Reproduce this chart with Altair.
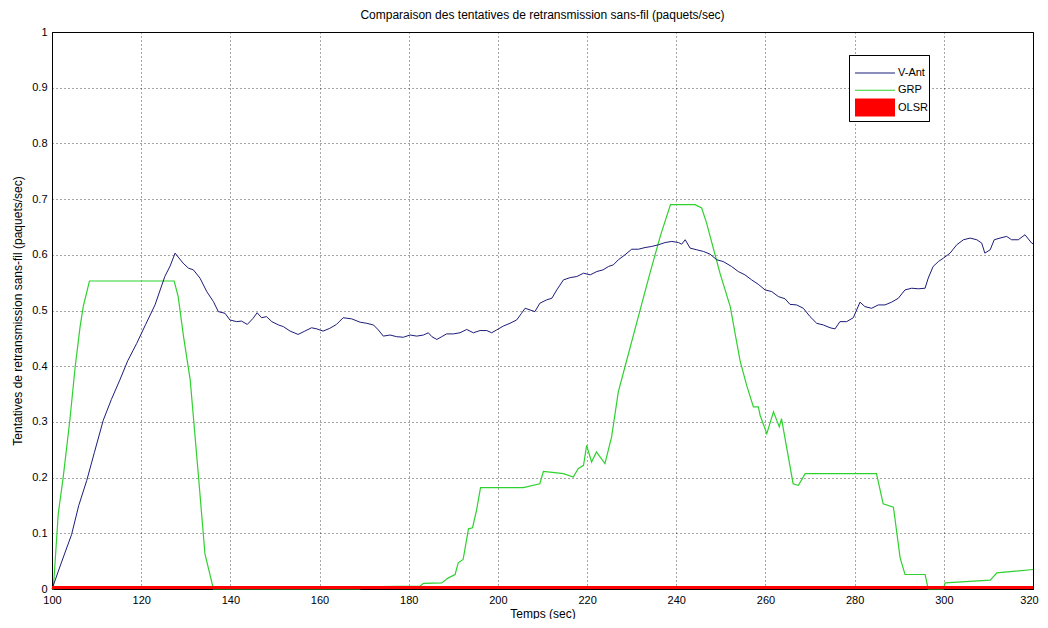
import altair as alt
import pandas as pd

vant_t = [100, 102, 104.4, 106, 107.8, 109.5, 111.5, 113.3, 115.2, 117, 119, 121, 123.1, 125.3, 126.5, 127.6,
          129.4, 130.6, 131.7, 133.2, 134.7, 136.2, 137.3, 138.8, 139.9, 141.4, 142.5, 143.8, 145.1, 146.0, 147.0,
          148.1, 149.3, 150.8, 151.9, 153.4, 155.2, 156.7, 158.2, 159.4, 160.8, 162.3, 163.8, 165.3, 167.2, 169.1,
          170.6, 172.1, 173.2, 174.3, 175.8, 177.3, 178.8, 180.3, 181.8, 183.3, 184.4, 185.2, 186.3, 187.4, 188.5,
          190.0, 191.5, 193.0, 194.5, 196.0, 197.5, 198.6, 199.7, 201.2, 202.7, 204.2, 205.3, 206.1, 207.2, 208.3,
          209.4, 210.9, 212.1, 213.2, 214.7, 216.2, 217.7, 219.2, 220.7, 222.2, 223.6, 224.8, 225.9, 227.0, 228.5,
          230.0, 231.5, 233.0, 234.5, 236.0, 237.5, 239.0, 240.5, 241.2, 242.0, 243.1, 244.6, 246.1, 247.6, 249.1,
          250.5, 252.4, 253.9, 255.4, 256.9, 258.4, 259.9, 261.4, 262.9, 264.4, 265.5, 267.0, 268.5, 270.0, 271.5,
          273.0, 274.5, 275.6, 276.7, 278.2, 279.7, 281.2, 282.3, 283.8, 285.3, 286.8, 288.3, 289.8, 291.3, 292.8,
          294.3, 295.8, 296.5, 297.6, 298.8, 299.9, 301.4, 302.9, 304.4, 305.9, 307.4, 308.5, 309.2, 310.4, 311.3,
          312.6, 314.1, 315.2, 316.7, 318.2, 319.7, 320]
vant_v = [0, 0.045, 0.098, 0.15, 0.195, 0.245, 0.303, 0.34, 0.375, 0.41, 0.441, 0.475, 0.51, 0.561, 0.58, 0.603,
          0.585, 0.576, 0.573, 0.558, 0.534, 0.516, 0.498, 0.495, 0.483, 0.48, 0.481, 0.475, 0.486, 0.496, 0.487,
          0.489, 0.48, 0.474, 0.471, 0.463, 0.457, 0.463, 0.469, 0.467, 0.463, 0.468, 0.475, 0.487, 0.485, 0.479,
          0.477, 0.474, 0.465, 0.454, 0.456, 0.453, 0.452, 0.456, 0.454, 0.456, 0.46, 0.453, 0.448, 0.453, 0.458,
          0.458, 0.46, 0.466, 0.46, 0.464, 0.464, 0.46, 0.465, 0.472, 0.477, 0.483, 0.495, 0.504, 0.501, 0.498,
          0.513, 0.519, 0.522, 0.537, 0.555, 0.559, 0.561, 0.567, 0.564, 0.57, 0.573, 0.579, 0.582, 0.591, 0.6,
          0.61, 0.61, 0.613, 0.615, 0.618, 0.622, 0.624, 0.622, 0.619, 0.627, 0.612, 0.609, 0.606, 0.601, 0.591,
          0.588, 0.579, 0.57, 0.564, 0.555, 0.547, 0.537, 0.534, 0.525, 0.521, 0.511, 0.51, 0.504, 0.489, 0.477,
          0.474, 0.469, 0.467, 0.48, 0.48, 0.487, 0.515, 0.507, 0.504, 0.51, 0.51, 0.515, 0.522, 0.537, 0.54,
          0.539, 0.54, 0.558, 0.579, 0.588, 0.594, 0.603, 0.618, 0.627, 0.63, 0.627, 0.621, 0.603, 0.609, 0.627,
          0.63, 0.633, 0.627, 0.627, 0.636, 0.621, 0.62]

grp_t = [100, 100.3, 101.4, 102.5, 104, 105.2, 106.3, 107, 108.1, 108.4, 127.4, 128.3, 129.5, 131, 132.8, 134.3,
         136.2, 169, 169.1, 182.5, 183.3, 187.4, 188.9, 190.4, 191.1, 192.2, 193.4, 194.3, 195.2, 196.1, 205.7,
         209.4, 210.2, 211.7, 214.7, 216.9, 218, 219.2, 219.9, 221, 222.1, 224, 225.5, 227, 228.5, 231.9, 234.1,
         236.4, 238.7, 244.2, 245.7, 246.8, 249.8, 252.1, 254.3, 255.8, 257.3, 258.4, 258.8, 260.3, 261.8, 263.1,
         263.6, 266.2, 267.4, 268.9, 284.9, 286.4, 288.7, 290.2, 291.3, 295.8, 296.5, 299.9, 300.3, 310.4, 311.9, 320]
grp_v = [0, 0, 0.135, 0.2, 0.303, 0.399, 0.471, 0.507, 0.543, 0.553, 0.553, 0.525, 0.453, 0.375, 0.207, 0.063,
         0, 0, 0.004, 0.005, 0.01, 0.011, 0.02, 0.026, 0.047, 0.053, 0.108, 0.11, 0.141, 0.182, 0.182,
         0.189, 0.211, 0.21, 0.207, 0.201, 0.216, 0.222, 0.258, 0.228, 0.246, 0.225, 0.273, 0.354, 0.399, 0.501, 0.567,
         0.633, 0.69, 0.69, 0.684, 0.657, 0.567, 0.507, 0.41, 0.365, 0.327, 0.327, 0.312, 0.279, 0.318, 0.291,
         0.306, 0.189, 0.186, 0.207, 0.207, 0.153, 0.147, 0.056, 0.026, 0.026, 0, 0, 0.011, 0.016, 0.029, 0.035]

olsr_t = [100, 320]
olsr_v = [0, 0]

series_names = ["V-Ant", "GRP", "OLSR"]
series_colors = ["#1c1c7a", "#2fd12f", "#ff0000"]
x_ticks = list(range(100, 321, 20))
y_ticks = [round(i * 0.1, 1) for i in range(11)]

df = pd.concat([
    pd.DataFrame({"t": vant_t, "v": vant_v, "s": "V-Ant"}),
    pd.DataFrame({"t": grp_t, "v": grp_v, "s": "GRP"}),
    pd.DataFrame({"t": olsr_t, "v": olsr_v, "s": "OLSR"}),
])
legend_df = pd.DataFrame({"s": series_names})

FONT = "Liberation Sans"

color_scale = alt.Scale(domain=series_names, range=series_colors)
x = alt.X("t:Q", scale=alt.Scale(domain=[100, 320], nice=False, zero=False),
          axis=alt.Axis(title="Temps (sec)", values=x_ticks, format="d", labelFlush=False,
                        labelOffset={"condition": {"test": "datum.value == 320", "value": -4}, "value": 0}))
y = alt.Y("v:Q", scale=alt.Scale(domain=[0, 1], nice=False),
          axis=alt.Axis(title="Tentatives de retransmission sans-fil (paquets/sec)", values=y_ticks, labelFlush=False,
                        labelExpr="datum.value == 0 ? '0' : datum.value == 1 ? '1' : format(datum.value, '.1f')"))
color = alt.Color("s:N", scale=color_scale, legend=None)

base = alt.Chart(df).encode(x=x, y=y, color=color)

layers = []
for name, w, clip in [("GRP", 1.2, False), ("V-Ant", 1.0, False), ("OLSR", 6, True)]:
    layers.append(base.transform_filter(alt.datum.s == name).mark_line(strokeWidth=w, clip=clip))
lines = alt.layer(*layers)

# legend box (inside the plot, top right)
leg_box = alt.Chart(legend_df).mark_rect(fill="white", stroke="black", strokeWidth=1).encode(
    x=alt.value(797.5), x2=alt.value(877.5), y=alt.value(23.5), y2=alt.value(89.5))
leg_y = alt.Y("s:N", scale=alt.Scale(type="point", domain=series_names, range=[41, 75.5], padding=0), axis=None)
leg_base = alt.Chart(legend_df).encode(
    x=alt.value(803), x2=alt.value(843), y=leg_y,
    color=alt.Color("s:N", scale=color_scale, legend=None))
leg_syms = [leg_base.transform_filter(alt.datum.s == name).mark_rule(strokeWidth=w, strokeCap="butt")
            for name, w in [("V-Ant", 1.2), ("GRP", 1.2), ("OLSR", 18)]]
leg_txt = alt.Chart(legend_df).mark_text(align="left", baseline="middle", font=FONT, fontSize=11, color="black").encode(
    x=alt.value(846), y=leg_y, text="s:N")
legend = alt.layer(leg_box, *leg_syms, leg_txt)

chart = alt.layer(lines, legend).resolve_scale(y="independent").properties(
    width=981, height=557,
    title=alt.TitleParams("Comparaison des tentatives de retransmission sans-fil (paquets/sec)",
                          fontSize=12, font=FONT, fontWeight="normal", offset=4, color="#000"),
    autosize=alt.AutoSizeParams(type="none"),
    padding={"left": 44, "top": 24, "right": 7, "bottom": 30},
).configure_view(stroke="black", strokeWidth=1).configure_axis(
    grid=True, gridColor="black", gridDash=[1, 3], gridOpacity=0.7, gridWidth=1,
    ticks=False, domain=True, domainColor="black",
    labelFont=FONT, labelFontSize=11, labelColor="#000", labelPadding=5,
    titleFont=FONT, titleFontSize=12, titleFontWeight="normal", titleColor="#000",
).configure_axisX(titlePadding=3).configure_axisY(titlePadding=7)

chart.save("out.html", embed_options={"renderer": "svg", "actions": False})
